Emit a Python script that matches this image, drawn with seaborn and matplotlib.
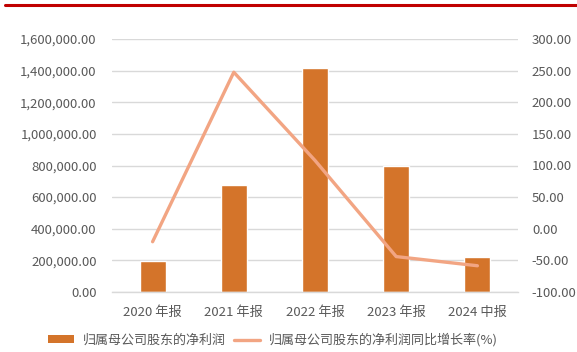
import matplotlib
matplotlib.use("Agg")
import matplotlib.pyplot as plt
from matplotlib.lines import Line2D
from matplotlib.patches import Patch
import matplotlib.ticker as mticker
import seaborn as sns
import pandas as pd

# Reporting periods and values
periods = ["2020 年报", "2021 年报", "2022 年报", "2023 年报", "2024 中报"]
net_profit = [195000, 675000, 1415000, 796000, 220000]
growth_pct = [-20.5, 247.5, 108.0, -44.0, -58.5]

bar_label = "归属母公司股东的净利润"
line_label = "归属母公司股东的净利润同比增长率(%)"

sns.set_theme(style="white")
plt.rcParams["font.family"] = ["Noto Sans CJK SC", "DejaVu Sans"]

text_color = "#595959"
grid_color = "#d9d9d9"
bar_color = "#D4742A"
line_color = "#F2A583"

df = pd.DataFrame({"period": periods, "profit": net_profit, "growth": growth_pct})

fig = plt.figure(figsize=(5.77, 3.52), dpi=100)
ax = fig.add_axes([112 / 577, 1 - 292 / 352, (518 - 112) / 577, (292 - 39) / 352])

sns.barplot(data=df, x="period", y="profit", color=bar_color, width=0.32,
            saturation=1, ax=ax, zorder=2)
ax.set_ylim(0, 1600000)
ax.yaxis.set_major_locator(mticker.MultipleLocator(200000))
ax.yaxis.set_major_formatter(mticker.FuncFormatter(lambda v, p: f"{v:,.2f}"))
ax.grid(axis="y", color=grid_color, linewidth=1, zorder=0)
ax.set_axisbelow(True)
ax.set_xlabel("")
ax.set_ylabel("")
for s in ["top", "left", "right"]:
    ax.spines[s].set_visible(False)
ax.spines["bottom"].set_color(grid_color)
ax.spines["bottom"].set_linewidth(1)
ax.tick_params(axis="both", length=0, colors=text_color, labelsize=9.5)
ax.tick_params(axis="y", pad=11)
ax.tick_params(axis="x", pad=10)

ax2 = ax.twinx()
sns.lineplot(data=df, x="period", y="growth", color=line_color, linewidth=2.4,
             sort=False, ax=ax2, zorder=3)
ax2.set_ylim(-100, 300)
ax2.yaxis.set_major_locator(mticker.MultipleLocator(50))
ax2.yaxis.set_major_formatter(mticker.FuncFormatter(lambda v, p: f"{v:.2f}"))
ax2.set_ylabel("")
ax2.set_xlabel("")
for s in ["top", "left", "right", "bottom"]:
    ax2.spines[s].set_visible(False)
ax2.tick_params(axis="y", length=0, colors=text_color, labelsize=9.5, pad=10)
ax2.grid(False)

# Category slots fill the plotting width evenly
ax.set_xlim(-0.5, len(periods) - 0.5)

handles = [Patch(facecolor=bar_color, edgecolor="none"),
           Line2D([0], [0], color=line_color, linewidth=2.4)]
fig.legend(handles, [bar_label, line_label], loc="center", ncol=2,
           bbox_to_anchor=(273 / 577, 1 - 340 / 352), frameon=False,
           fontsize=9.4, labelcolor=text_color, handlelength=2.0,
           handleheight=0.55, columnspacing=0.6, handletextpad=0.7)

# Red rule along the top edge
fig.add_artist(Line2D([5 / 577, 1.0], [1 - 5 / 352, 1 - 5 / 352],
                      color="#C00000", linewidth=2.2, transform=fig.transFigure))

fig.savefig("out.png", dpi=100)
